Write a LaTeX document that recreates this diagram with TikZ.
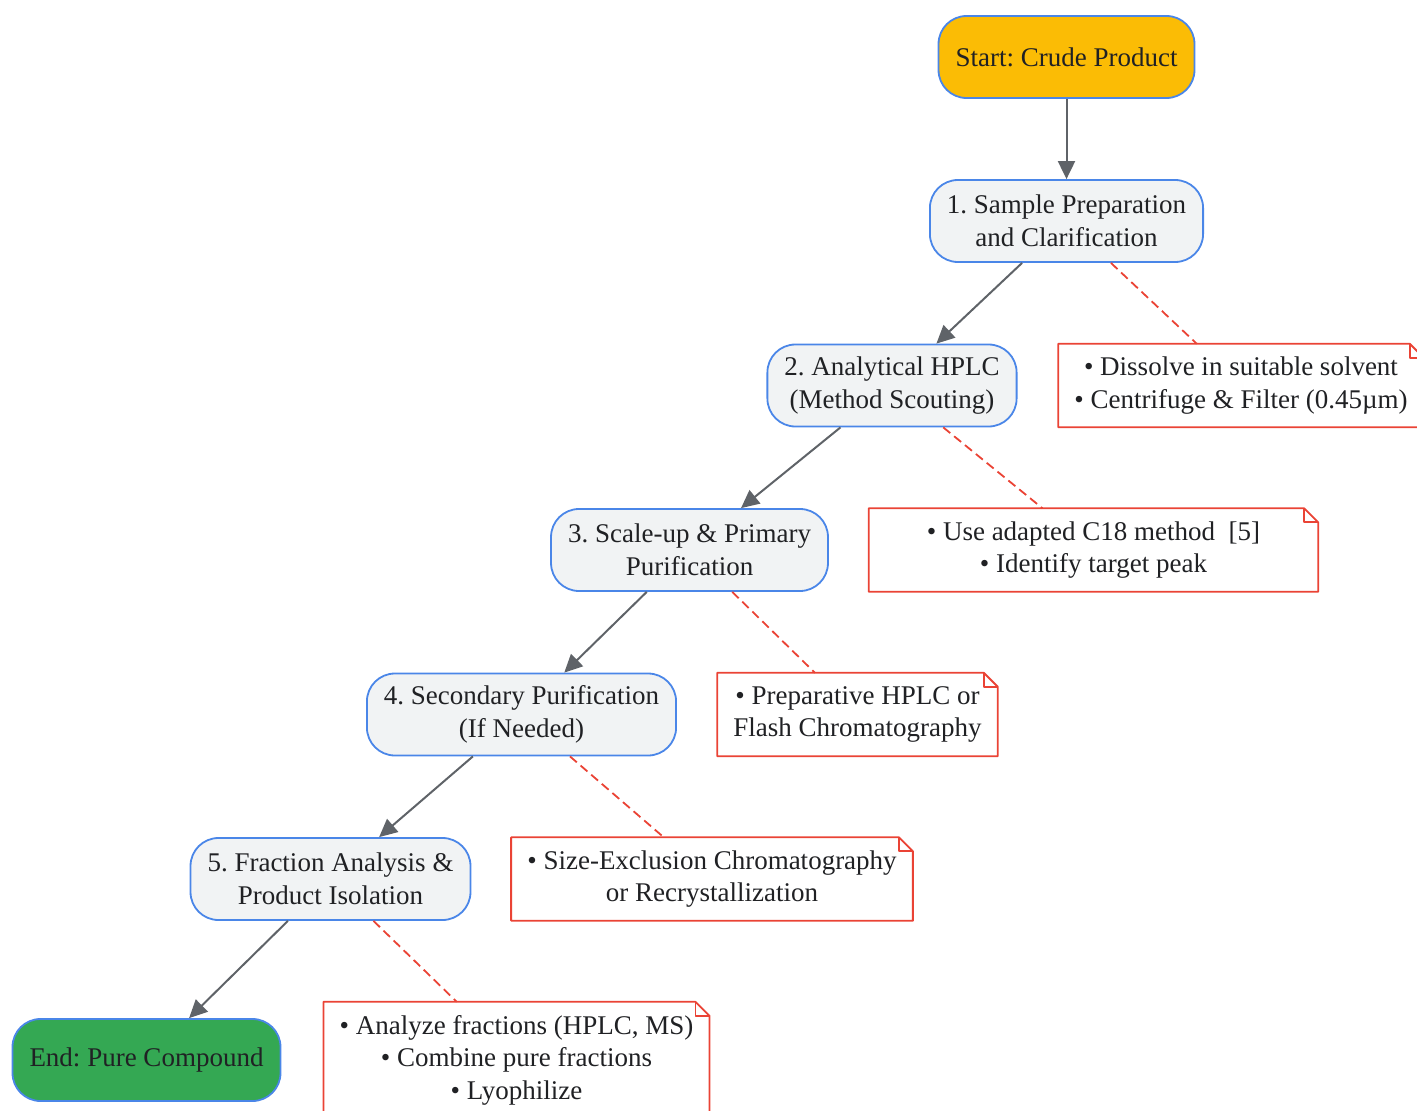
\documentclass[tikz,border=0pt]{standalone}
\usepackage{fontspec}
\setmainfont{Liberation Serif}
\frenchspacing
\usetikzlibrary{arrows.meta}
\definecolor{stepfill}{HTML}{F1F3F4}
\definecolor{stepline}{HTML}{4A86E8}
\definecolor{startfill}{HTML}{FBBC05}
\definecolor{endfill}{HTML}{34A853}
\definecolor{noteline}{HTML}{EA4335}
\definecolor{arrowgray}{HTML}{5F6368}
\definecolor{txt}{HTML}{202124}
\begin{document}
\begin{tikzpicture}[x=1pt,y=-1pt,line join=round,>={Triangle[length=18pt,width=17pt]}]
		\tikzset{step box/.style={draw=stepline,fill=stepfill,line width=1.8pt,rounded corners=28pt,minimum height=82pt,inner xsep=17pt,align=center,text=txt,font=\fontsize{27}{32.5}\selectfont},
			note box/.style={fill=white,minimum height=83pt,inner xsep=16pt,align=center,text=txt,font=\fontsize{27}{32.5}\selectfont},
			flow/.style={->,draw=arrowgray,fill=arrowgray,line width=2pt},
			link/.style={draw=noteline,line width=1.8pt,dash pattern=on 9pt off 5pt}}
		\useasboundingbox (0,0) rectangle (1417,1111);
		\clip (0,0) rectangle (1417,1111);
		% main steps
		\node[step box,fill=startfill] (start) at (1066.5,57) {Start: Crude Product};
		\node[step box] (s1) at (1066.5,221) {1. Sample Preparation\\and Clarification};
		\node[step box] (s2) at (892,385.5) {2. Analytical HPLC\\(Method Scouting)};
		\node[step box] (s3) at (689.5,550) {3. Scale-up \& Primary\\Purification};
		\node[step box] (s4) at (521.5,714.5) {4. Secondary Purification\\(If Needed)};
		\node[step box] (s5) at (330.5,879) {5. Fraction Analysis \&\\Product Isolation};
		\node[step box,fill=endfill] (end) at (146.5,1060) {End: Pure Compound};
		% notes
		\node[note box] (n1) at (1241,385.5) {• Dissolve in suitable solvent\\• Centrifuge \& Filter (0.45µm)};
		\node[note box,minimum width=449pt] (n2) at (1093.5,550) {• Use adapted C18 method~~[5]\\• Identify target peak};
		\node[note box] (n3) at (857.5,714.5) {• Preparative HPLC or\\Flash Chromatography};
		\node[note box] (n4) at (712,879) {• Size-Exclusion Chromatography\\or Recrystallization};
		\node[note box,minimum height=116pt] (n5) at (516.5,1060) {• Analyze fractions (HPLC, MS)\\• Combine pure fractions\\• Lyophilize};
		\foreach \n in {n1,n2,n3,n4,n5}{
		\draw[noteline,line width=1.8pt] (\n.south west) -- (\n.north west) -- ([xshift=-14pt]\n.north east) -- ([yshift=-14pt]\n.north east) -- (\n.south east) -- cycle;
		\draw[noteline,line width=1.8pt] ([xshift=-14pt]\n.north east) -- ([xshift=-14pt,yshift=-14pt]\n.north east) -- ([yshift=-14pt]\n.north east);
		}
		% connectors
		\draw[flow] (start) -- (s1);
		\draw[flow] (s1) -- (s2);
		\draw[flow] (s2) -- (s3);
		\draw[flow] (s3) -- (s4);
		\draw[flow] (s4) -- (s5);
		\draw[flow] (s5) -- (end);
		\foreach \a/\b in {s1/n1,s2/n2,s3/n3,s4/n4,s5/n5}
		\draw[link] (\a) -- (\b);
		\end{tikzpicture}
\end{document}
